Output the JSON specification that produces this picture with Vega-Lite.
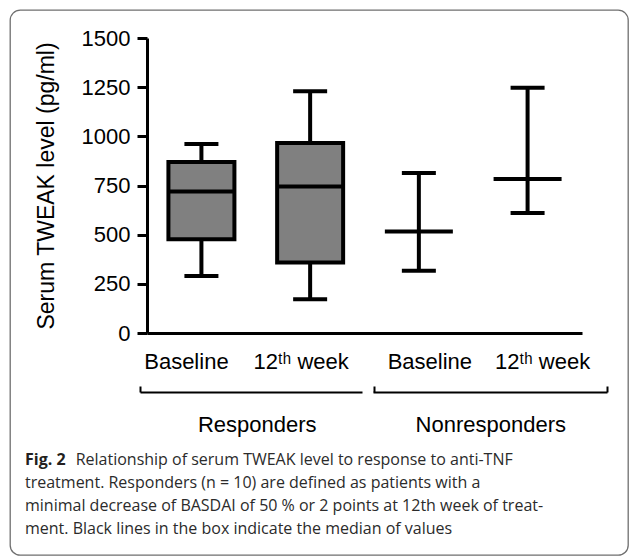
{
  "$schema": "https://vega.github.io/schema/vega-lite/v6.json",
  "width": 618,
  "height": 545,
  "autosize": {"type": "none"},
  "padding": {"left": 10, "top": 10, "right": 1, "bottom": 2},
  "background": "white",
  "config": {
    "view": {"stroke": "#6f6f6f", "strokeWidth": 1.3, "cornerRadius": 10},
    "font": "Liberation Sans"
  },
  "title": {
    "text": "Fig. 2",
    "subtitle": [
      "\u200b\u2003\u2003\u2003\u2009Relationship of serum TWEAK level to response to anti-TNF",
      "treatment. Responders (n = 10) are defined as patients with a",
      "minimal decrease of BASDAI of 50 % or 2 points at 12th week of treat-",
      "ment. Black lines in the box indicate the median of values"
    ],
    "orient": "bottom",
    "anchor": "start",
    "frame": "group",
    "offset": -103,
    "dx": 15,
    "font": "Open Sans",
    "fontSize": 16,
    "fontWeight": "bold",
    "color": "#231f20",
    "subtitleFont": "Open Sans",
    "subtitleFontSize": 16,
    "subtitleColor": "#2b2b2b",
    "subtitlePadding": -16,
    "subtitleLineHeight": 23
  },
  "data": {
    "values": [
      {"group": "Responders", "cond": "R: Baseline", "lower": 290, "q1": 477, "median": 720, "q3": 870, "upper": 961},
      {"group": "Responders", "cond": "R: 12ᵗʰ week", "lower": 172, "q1": 358, "median": 745, "q3": 966, "upper": 1229},
      {"group": "Nonresponders", "cond": "N: Baseline", "lower": 317, "q1": null, "median": 516, "q3": null, "upper": 814},
      {"group": "Nonresponders", "cond": "N: 12ᵗʰ week", "lower": 610, "q1": null, "median": 783, "q3": null, "upper": 1247}
    ]
  },
  "resolve": {"scale": {"x": "independent"}, "axis": {"x": "independent"}},
  "layer": [
    {
      "encoding": {
        "x": {
          "field": "cond",
          "type": "nominal",
          "sort": null,
          "scale": {"range": [137, 572], "paddingInner": 0.393, "paddingOuter": 0.197},
          "axis": {
            "title": null,
            "orient": "bottom",
            "offset": -222,
            "domainWidth": 3,
            "domainColor": "black",
            "ticks": false,
            "labelFont": "Liberation Sans",
            "labelFontSize": 22,
            "labelColor": "black",
            "labelPadding": 18,
            "labelAngle": 0,
            "labelExpr": "substring(datum.label, 3)",
            "labelOffset": {"expr": "indexof(datum.value, 'R:') == 0 ? (indexof(datum.value, 'Base') > 0 ? -15 : -9) : (indexof(datum.value, 'Base') > 0 ? 11 : 15)"}
          }
        }
      },
      "layer": [
        {
          "mark": {"type": "rule", "color": "black", "strokeWidth": 4},
          "encoding": {
            "y": {
              "field": "lower",
              "type": "quantitative",
              "title": "Serum TWEAK level (pg/ml)",
              "scale": {"domain": [0, 1500], "range": [323, 28], "nice": false},
              "axis": {
                "title": "Serum TWEAK level (pg/ml)",
                "values": [0, 250, 500, 750, 1000, 1250, 1500],
                "format": "d",
                "offset": -137,
                "grid": false,
                "domainWidth": 3,
                "domainColor": "black",
                "tickWidth": 3,
                "tickSize": 10,
                "tickColor": "black",
                "labelFont": "Liberation Sans",
                "labelFontSize": 22,
                "labelColor": "black",
                "labelPadding": 7,
                "titleFont": "Liberation Sans",
                "titleFontSize": 23,
                "titleFontWeight": "normal",
                "titleColor": "black",
                "titlePadding": 23
              }
            },
            "y2": {"field": "upper"}
          }
        },
        {
          "mark": {"type": "bar", "fill": "#808080", "stroke": "black", "strokeWidth": 4},
          "encoding": {
            "y": {"field": "q1", "type": "quantitative", "title": "Serum TWEAK level (pg/ml)"},
            "y2": {"field": "q3"}
          }
        },
        {
          "mark": {"type": "tick", "color": "black", "size": 34, "thickness": 4, "opacity": 1},
          "encoding": {"y": {"field": "upper", "type": "quantitative", "title": "Serum TWEAK level (pg/ml)"}}
        },
        {
          "mark": {"type": "tick", "color": "black", "size": 34, "thickness": 4, "opacity": 1},
          "encoding": {"y": {"field": "lower", "type": "quantitative", "title": "Serum TWEAK level (pg/ml)"}}
        },
        {
          "mark": {"type": "tick", "color": "black", "size": 68, "thickness": 4, "opacity": 1},
          "encoding": {"y": {"field": "median", "type": "quantitative", "title": "Serum TWEAK level (pg/ml)"}}
        }
      ]
    },
    {
      "mark": {"type": "point", "opacity": 0},
      "encoding": {
        "x": {
          "field": "group",
          "type": "nominal",
          "sort": null,
          "scale": {"range": [130, 597], "paddingInner": 0, "paddingOuter": 0},
          "axis": {
            "title": null,
            "orient": "bottom",
            "offset": -163,
            "domainWidth": 2,
            "domainColor": "black",
            "domainDash": [222, 11, 300],
            "tickBand": "extent",
            "tickSize": -6,
            "tickWidth": 2,
            "tickColor": "black",
            "labelFont": "Liberation Sans",
            "labelFontSize": 22,
            "labelColor": "black",
            "labelPadding": 28,
            "labelAngle": 0
          }
        }
      }
    }
  ]
}
